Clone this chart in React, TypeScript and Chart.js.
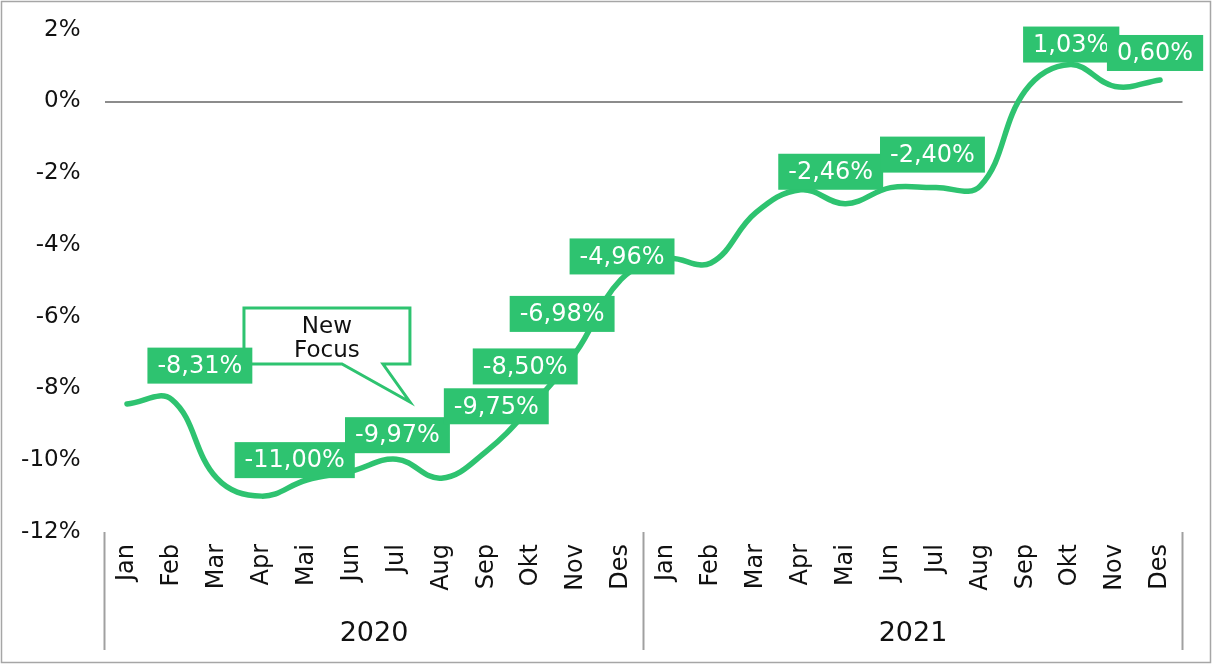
import React, { useEffect, useRef } from 'react';
import { Chart, registerables } from 'chart.js';

Chart.register(...registerables);

const months = ['Jan', 'Feb', 'Mar', 'Apr', 'Mai', 'Jun', 'Jul', 'Aug', 'Sep', 'Okt', 'Nov', 'Des'];
const years = ['2020', '2021'];
const values2020 = [-8.43, -8.31, -10.5, -11.0, -10.55, -10.3, -9.97, -10.5, -9.75, -8.5, -6.98, -4.96];
const values2021 = [-4.38, -4.5, -3.1, -2.46, -2.85, -2.4, -2.4, -2.35, 0.3, 1.03, 0.42, 0.6];
const yMin = -12;
const yMax = 2;
const yStep = 2;
// indices of the points that carry a data label
const labelledIdx = [1, 3, 6, 8, 9, 10, 11, 15, 18, 21, 23];
// label box centre offsets from their point (pixels)
const labelOffsets = [
  [28, -34], [33, -36], [1, -24], [10, -45], [-6, -40], [-14, -38],
  [1, -23], [30, -18], [-3, -33], [1, -20], [-5, -27],
];
const calloutLines = ['New', 'Focus'];
// callout geometry in data coordinates (category index, value)
const callout = {
  left: 2.605, right: 6.3, top: -5.756, bottom: -7.317,
  tailA: 4.787, tailB: 5.7, tipX: 6.3, tipY: -8.376,
};

const GREEN = '#2EC370';
const FONT = '"DejaVu Sans", sans-serif';

const categories = years.flatMap((y) => months.map((m) => `${m} ${y}`));
const allValues = [...values2020, ...values2021];

const fmt = (v: number) => v.toFixed(2).replace('.', ',') + '%';

const decorPlugin = {
  id: 'decor',
  beforeDraw(chart: any) {
    const { ctx, width, height } = chart;
    ctx.save();
    ctx.fillStyle = '#ffffff';
    ctx.fillRect(0, 0, width, height);
    ctx.restore();
  },
  afterDraw(chart: any) {
    const { ctx, chartArea, scales } = chart;
    const x = scales.x;
    ctx.save();
    // separators
    ctx.strokeStyle = '#A0A0A0';
    ctx.lineWidth = 2;
    const mid = (x.getPixelForValue(11) + x.getPixelForValue(12)) / 2;
    [chartArea.left, mid, chartArea.right].forEach((sx) => {
      ctx.beginPath();
      ctx.moveTo(sx, chartArea.bottom);
      ctx.lineTo(sx, 650);
      ctx.stroke();
    });
    // year labels
    ctx.fillStyle = '#111111';
    ctx.font = `27px ${FONT}`;
    ctx.textAlign = 'center';
    ctx.textBaseline = 'middle';
    years.forEach((yr, g) => {
      const cx = (x.getPixelForValue(g * 12) + x.getPixelForValue(g * 12 + 11)) / 2;
      ctx.fillText(yr, cx, 634);
    });
    // outer border
    ctx.strokeStyle = '#A6A6A6';
    ctx.lineWidth = 1.5;
    ctx.strokeRect(1.5, 1.5, chart.width - 3, chart.height - 3);
    ctx.restore();
  },
  afterDatasetsDraw(chart: any) {
    const { ctx, scales } = chart;
    const x = scales.x;
    const y = scales.y;
    const step = x.getPixelForValue(1) - x.getPixelForValue(0);
    const px = (i: number) => x.getPixelForValue(0) + i * step;
    ctx.save();
    // callout
    const L = px(callout.left), R = px(callout.right);
    const T = y.getPixelForValue(callout.top), B = y.getPixelForValue(callout.bottom);
    ctx.beginPath();
    ctx.moveTo(L, T);
    ctx.lineTo(R, T);
    ctx.lineTo(R, B);
    ctx.lineTo(px(callout.tailB), B);
    ctx.lineTo(px(callout.tipX), y.getPixelForValue(callout.tipY));
    ctx.lineTo(px(callout.tailA), B);
    ctx.lineTo(L, B);
    ctx.closePath();
    ctx.fillStyle = '#ffffff';
    ctx.fill();
    ctx.strokeStyle = GREEN;
    ctx.lineWidth = 3;
    ctx.lineJoin = 'miter';
    ctx.stroke();
    ctx.fillStyle = '#111111';
    ctx.font = `23px ${FONT}`;
    ctx.textAlign = 'center';
    ctx.textBaseline = 'middle';
    const cx = (L + R) / 2;
    ctx.fillText(calloutLines[0], cx, T + 19);
    ctx.fillText(calloutLines[1], cx, T + 43);
    // data labels
    ctx.font = `24px ${FONT}`;
    labelledIdx.forEach((idx, k) => {
      const v = allValues[idx];
      const text = fmt(v);
      const ppx = x.getPixelForValue(idx);
      const ppy = y.getPixelForValue(v);
      const [dx, dy] = labelOffsets[k];
      const lx = ppx + dx;
      const ly = ppy + dy;
      const tw = ctx.measureText(text).width;
      const w = tw + 20;
      const h = 36;
      ctx.fillStyle = GREEN;
      ctx.fillRect(lx - w / 2, ly - h / 2, w, h);
      ctx.fillStyle = '#ffffff';
      ctx.fillText(text, lx, ly + 1);
    });
    ctx.restore();
  },
};

export default function App() {
  const ref = useRef<HTMLCanvasElement | null>(null);
  useEffect(() => {
    if (!ref.current) return;
    const chart = new Chart(ref.current, {
      type: 'line',
      data: {
        labels: categories,
        datasets: [
          {
            data: allValues,
            borderColor: GREEN,
            borderWidth: 5.5,
            tension: 0.4,
            pointRadius: 0,
            pointHoverRadius: 0,
            borderCapStyle: 'round',
            borderJoinStyle: 'round',
            fill: false,
            clip: false as any,
          },
        ],
      },
      options: {
        animation: false,
        responsive: false,
        devicePixelRatio: 1,
        layout: { autoPadding: false, padding: { left: 0, top: 29.75, right: 29.5, bottom: 0 } },
        plugins: { legend: { display: false }, tooltip: { enabled: false } },
        scales: {
          x: {
            type: 'category',
            offset: true,
            grid: { display: false, drawTicks: false },
            border: { display: false },
            ticks: {
              autoSkip: false,
              maxRotation: 90,
              minRotation: 90,
              padding: 12,
              color: '#111111',
              font: { family: FONT, size: 24 },
              callback: (_v: any, i: number) => months[i % 12],
            },
            afterFit: (s: any) => { s.height = 132; },
          },
          y: {
            min: yMin,
            max: yMax,
            grid: {
              drawTicks: true,
              tickLength: 24,
              tickColor: 'rgba(0,0,0,0)',
              color: (c: any) => (c.tick && c.tick.value === 0 ? '#8C8C8C' : 'rgba(0,0,0,0)'),
              lineWidth: 2,
            },
            border: { display: false },
            ticks: {
              stepSize: yStep,
              padding: 0,
              color: '#111111',
              font: { family: FONT, size: 23 },
              callback: (v: any) => `${v}%`,
            },
            afterFit: (s: any) => { s.width = 104.5; },
          },
        },
      },
      plugins: [decorPlugin],
    });
    return () => chart.destroy();
  }, []);
  return (
    <div style={{ position: 'fixed', left: 0, top: 0, width: 1212, height: 664 }}>
      <canvas ref={ref} width={1212} height={664} />
    </div>
  );
}
